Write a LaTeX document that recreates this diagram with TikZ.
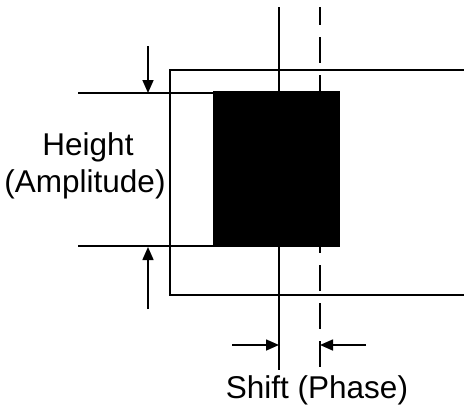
\documentclass[tikz,border=0pt]{standalone}
\usepackage{fontspec}
\setmainfont{Liberation Sans}
\usetikzlibrary{arrows.meta}
\begin{document}
\begin{tikzpicture}[x=1pt,y=-1pt,
  thinline/.style={line width=1.6pt},
  vline/.style={line width=2.8pt},
  dimarrow/.style={line width=1.6pt,-{Triangle[length=13pt,width=11pt]}},
  lbl/.style={font=\fontsize{31.5}{36}\selectfont,inner sep=0pt,anchor=base}]
\useasboundingbox (0,0) rectangle (464,408);
% outer frame (cut at the right edge)
\coordinate (frTR) at (464,70);
\coordinate (frTL) at (170,70);
\coordinate (frBL) at (170,295);
\coordinate (frBR) at (464,295);
\draw[thinline] (frTR) -- (frTL) -- (frBL) -- (frBR);
% black pulse
\node[fill=black,draw=none,minimum width=127pt,minimum height=156pt,inner sep=0pt,anchor=north west] (pulse) at (213,91) {};
% height extension lines
\coordinate (topL) at (78,93);
\coordinate (botL) at (78,246);
\draw[thinline] (topL) -- (pulse.west |- topL);
\draw[thinline] (botL) -- (pulse.west |- botL);
% height arrows
\coordinate (downS) at (148,46);
\coordinate (downE) at (148,93);
\coordinate (upS) at (148,309);
\coordinate (upE) at (148,247);
\draw[dimarrow] (downS) -- (downE);
\draw[dimarrow] (upS) -- (upE);
% vertical reference lines
\coordinate (solT) at (279,7);
\coordinate (solB) at (279,370);
\coordinate (dasT) at (320,7);
\coordinate (dasB) at (320,369);
\draw[vline] (solT) -- (solB);
\draw[vline,dash pattern=on 26pt off 12pt,dash phase=8pt] (dasT) -- (dasB);
% shift arrows
\coordinate (lS) at (232,345);
\coordinate (lE) at (279,345);
\coordinate (rS) at (366,345);
\coordinate (rE) at (320,345);
\draw[dimarrow] (lS) -- (lE);
\draw[dimarrow] (rS) -- (rE);
% labels
\node[lbl] (height) at (88,155) {Height};
\node[lbl] (ampl) at (85,192) {(Amplitude)};
\node[lbl] (shift) at (317,398) {Shift (Phase)};
\end{tikzpicture}
\end{document}
